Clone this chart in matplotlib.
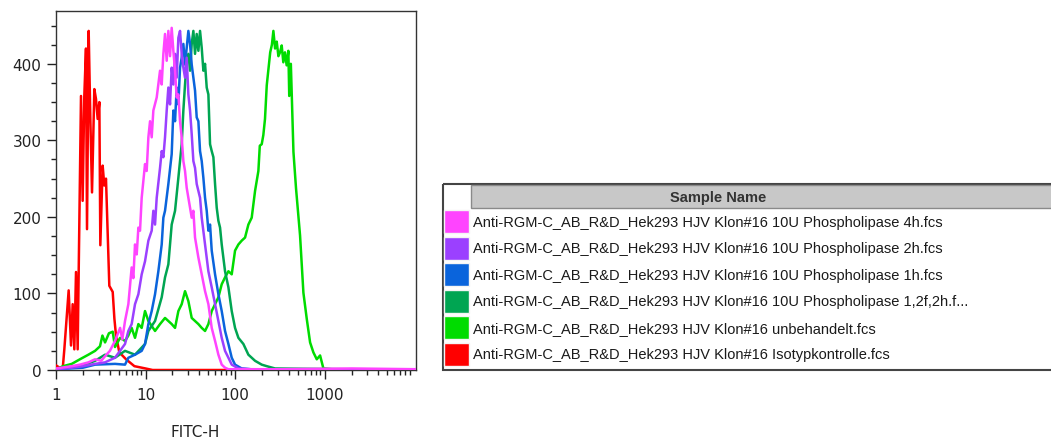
import matplotlib
matplotlib.use("Agg")
from matplotlib import pyplot as plt
from matplotlib.patches import Rectangle
import numpy as np

# FITC-H histograms (x = FITC-H, y = count)
pink_x = [1.0, 1.5, 1.85, 2.3, 2.73, 3.2, 3.53, 4.0, 4.56, 5.2, 5.5, 5.9, 6.43, 7.0, 7.31, 7.63, 7.97,
          8.32, 8.68, 9.06, 9.87, 10.3, 10.76, 11.23, 11.72, 12.23, 13.33, 14.52, 15.16, 15.82, 16.51,
          17.24, 17.99, 18.78, 19.6, 20.46, 21.36, 22.29, 23.27, 24.29, 25.35, 26.46, 27.62, 28.84,
          30.1, 32.8, 34.23, 35.73, 38.93, 42.42, 46.22, 50.36, 54.87, 59.79, 65.14, 70.96, 77.3,
          84.3, 100, 300, 2000, 10500]
pink_y = [2, 5, 7, 10, 14, 12, 18, 25, 38, 55, 40, 64, 86, 134, 120, 164, 151,
          186, 182, 225, 269, 260, 304, 325, 304, 339, 356, 391, 373, 413, 439,
          404, 443, 410, 447, 417, 391, 356, 360, 325, 304, 273, 260, 238,
          225, 199, 208, 173, 147, 125, 103, 86, 55, 38, 20, 7, 3,
          1, 1, 1, 2, 1]

purple_x = [1.0, 1.5, 2.0, 2.73, 3.53, 4.56, 5.9, 6.43, 7.0, 7.63, 8.32, 9.06, 9.87, 10.76, 11.72,
            12.23, 12.77, 13.33, 14.52, 15.16, 15.82, 16.51, 17.24, 17.99, 18.78, 19.6, 20.46,
            21.36, 22.29, 23.27, 24.29, 25.35, 26.46, 27.62, 28.84, 30.1, 31.42, 32.8, 34.23,
            35.73, 37.3, 38.93, 40.64, 42.42, 46.22, 50.36, 54.87, 59.79, 65.14, 70.96, 77.3,
            84.3, 91.8, 109, 150, 10500]
purple_y = [1, 3, 5, 8, 10, 16, 34, 51, 60, 86, 99, 125, 142, 169, 182,
            208, 190, 225, 264, 286, 278, 304, 339, 369, 347, 395, 373,
            413, 382, 434, 443, 413, 395, 382, 408, 360, 339, 308, 273,
            264, 243, 234, 225, 199, 164, 129, 108, 86, 64, 42, 25,
            16, 7, 2, 1, 1]

blue_x = [1.0, 2.0, 2.73, 4.56, 5.9, 6.43, 7.63, 9.06, 9.87, 10.76, 11.72, 12.77, 13.91, 15.16,
          15.82, 16.51, 17.99, 19.6, 20.46, 21.36, 22.29, 23.27, 24.29, 25.35, 26.46, 27.62,
          28.84, 30.1, 31.42, 32.8, 34.23, 35.73, 37.3, 38.93, 40.64, 42.42, 44.28, 46.22,
          48.25, 50.36, 52.57, 54.87, 59.79, 65.14, 70.96, 77.3, 84.3, 91.8, 100, 118.7, 150,
          10500]
blue_y = [1, 3, 7, 8, 7, 16, 20, 25, 34, 60, 77, 99, 129, 164,
          199, 208, 243, 282, 339, 325, 369, 347, 395, 408, 426, 399,
          421, 443, 426, 399, 382, 365, 330, 325, 286, 273, 251, 225,
          208, 182, 190, 156, 125, 99, 77, 51, 34, 16, 7, 2, 1,
          0]

dkgreen_x = [1.0, 1.5, 2.0, 2.73, 3.53, 4.56, 5.9, 7.63, 9.87, 10.76, 12.77, 15.16, 16.51, 17.99,
             19.6, 21.36, 23.27, 25.35, 26.46, 27.62, 28.84, 30.1, 31.42, 32.8, 34.23, 35.73,
             37.3, 38.93, 40.64, 42.42, 44.28, 46.22, 48.25, 50.36, 52.57, 54.87, 57.28, 59.79,
             62.41, 65.14, 68.0, 70.96, 77.3, 84.3, 91.8, 100, 109, 123.9, 140.9, 167.3, 198.6,
             226, 280, 10500]
dkgreen_y = [1, 3, 6, 12, 20, 16, 25, 20, 34, 51, 64, 95, 121, 138,
             190, 208, 251, 295, 339, 373, 404, 413, 391, 426, 443, 413,
             439, 417, 443, 421, 391, 400, 369, 360, 295, 286, 278, 243,
             212, 195, 186, 164, 129, 108, 77, 55, 42, 34, 20, 12, 7,
             5, 2, 0]

green_x = [1.0, 1.2, 1.5, 1.85, 2.3, 2.73, 3.1, 3.3, 3.53, 3.9, 4.3, 4.56, 5.2, 5.9, 6.43, 7.0,
           7.63, 8.32, 9.06, 9.87, 10.76, 12.77, 14.52, 16.51, 19.6, 21.36, 23.27, 25.35, 27.62,
           30.1, 32.8, 35.73, 38.93, 42.42, 46.22, 50.36, 54.87, 59.79, 65.14, 70.96, 77.3, 84.3,
           91.8, 100, 109, 118.7, 129.3, 140.9, 153.5, 167.3, 182.2, 189, 198.6, 207, 216, 226,
           236, 247, 258, 268, 280, 292, 305, 318, 332, 346, 361, 377, 394, 403, 420, 449, 480,
           532, 580, 632, 689, 750, 818, 891, 970, 1200, 10500]
green_y = [1, 5, 8, 14, 20, 25, 31, 45, 36, 48, 50, 30, 42, 38, 45, 55,
           42, 60, 55, 77, 64, 51, 60, 68, 60, 55, 77, 86, 103,
           90, 68, 64, 60, 55, 51, 60, 77, 86, 95, 112, 121, 129,
           125, 156, 164, 169, 173, 190, 199, 234, 260, 293, 295, 307, 328, 372,
           393, 415, 425, 443, 420, 429, 410, 415, 424, 402, 415, 398, 417, 358, 400, 285, 237,
           176, 101, 67, 36, 23, 14, 19, 2, 1, 0]

red_x = [1.0, 1.1, 1.187, 1.239, 1.385, 1.471, 1.535, 1.602, 1.673, 1.746, 1.902, 1.985, 2.071,
         2.162, 2.22, 2.317, 2.419, 2.525, 2.681, 2.797, 2.92, 3.05, 3.127, 3.32, 3.465, 3.617,
         3.94, 4.3, 4.49, 4.68, 5.1, 6.06, 7.51, 10, 12, 10500]
red_y = [6, 3, 1, 27, 104, 32, 86, 27, 128, 27, 358, 221, 358,
         420, 184, 443, 328, 232, 367, 354, 328, 350, 163, 267, 241, 250,
         110, 102, 67, 45, 23, 14, 5, 2, 0, 0]

names = ["Anti-RGM-C_AB_R&D_Hek293 HJV Klon#16 10U Phospholipase 4h.fcs",
         "Anti-RGM-C_AB_R&D_Hek293 HJV Klon#16 10U Phospholipase 2h.fcs",
         "Anti-RGM-C_AB_R&D_Hek293 HJV Klon#16 10U Phospholipase 1h.fcs",
         "Anti-RGM-C_AB_R&D_Hek293 HJV Klon#16 10U Phospholipase 1,2f,2h.f...",
         "Anti-RGM-C_AB_R&D_Hek293 HJV Klon#16 unbehandelt.fcs",
         "Anti-RGM-C_AB_R&D_Hek293 HJV Klon#16 Isotypkontrolle.fcs"]
colors = ["#ff44ff", "#9b40ff", "#0a64dc", "#00a552", "#00dc00", "#ff0000"]
series = [(pink_x, pink_y), (purple_x, purple_y), (blue_x, blue_y),
          (dkgreen_x, dkgreen_y), (green_x, green_y), (red_x, red_y)]

x_major = [1, 10, 100, 1000]
x_labels = ["1", "10", "100", "1000"]
y_major = [0, 100, 200, 300, 400]

W, H = 1051, 439
fig = plt.figure(figsize=(W / 100, H / 100), dpi=100)
ax = fig.add_axes([56 / W, (H - 371) / H, 360 / W, 359 / H])

# last in legend drawn first, first in legend on top
for i in range(len(series) - 1, -1, -1):
    xs, ys = series[i]
    ax.plot(xs, ys, color=colors[i], lw=1.8, zorder=2 + (len(series) - i))

ax.set_xscale("log")
ax.set_xlim(1, 10500)
ax.set_ylim(0, 469)
ax.set_xticks(x_major)
ax.set_xticklabels(x_labels)
minor = [m * d for d in [1, 10, 100, 1000] for m in range(2, 10)]
ax.set_xticks(minor, minor=True)
ax.xaxis.set_minor_formatter(plt.NullFormatter())
ax.set_yticks(y_major)
ax.set_yticks(np.arange(0, 469, 25), minor=True)

ax.tick_params(axis="both", which="major", length=6.5, width=1, labelsize=11,
               labelcolor="#222222", color="#222222")
ax.tick_params(axis="both", which="minor", length=3.5, width=1, color="#222222")
ax.tick_params(axis="x", which="major", pad=6)
ax.tick_params(axis="y", which="major", pad=4)
for s in ax.spines.values():
    s.set_color("#333333")
    s.set_linewidth(1)

fig.text(195 / W, 1 - 433 / H, "FITC-H", ha="center", va="center", fontsize=11, color="#222222")

# sample name table
lax = fig.add_axes([442 / W, (H - 371) / H, (W - 442) / W, 187 / H])
lax.set_xlim(0, W - 442)
lax.set_ylim(187, 0)
lax.axis("off")
lax.add_patch(Rectangle((0.5, 0.5), 700, 186, fill=False, ec="#444444", lw=1.5, clip_on=False))
lax.add_patch(Rectangle((29, 1.5), 700, 23, fc="#c8c8c8", ec="#8a8a8a", lw=1))
lax.text(276, 13.5, "Sample Name", ha="center", va="center", fontsize=10.5,
         fontweight="bold", family="Liberation Sans", color="#333333")
for i, (nm, c) in enumerate(zip(names, colors)):
    yc = 38.5 + i * 26.6
    lax.add_patch(Rectangle((1.5, yc - 11.5), 25, 23, fc=c, ec="#f4f4f4", lw=1))
    lax.text(31, yc, nm, ha="left", va="center", fontsize=10.5,
             family="Liberation Sans", color="#1a1a1a", clip_on=True)

fig.savefig("out.png", dpi=100)
